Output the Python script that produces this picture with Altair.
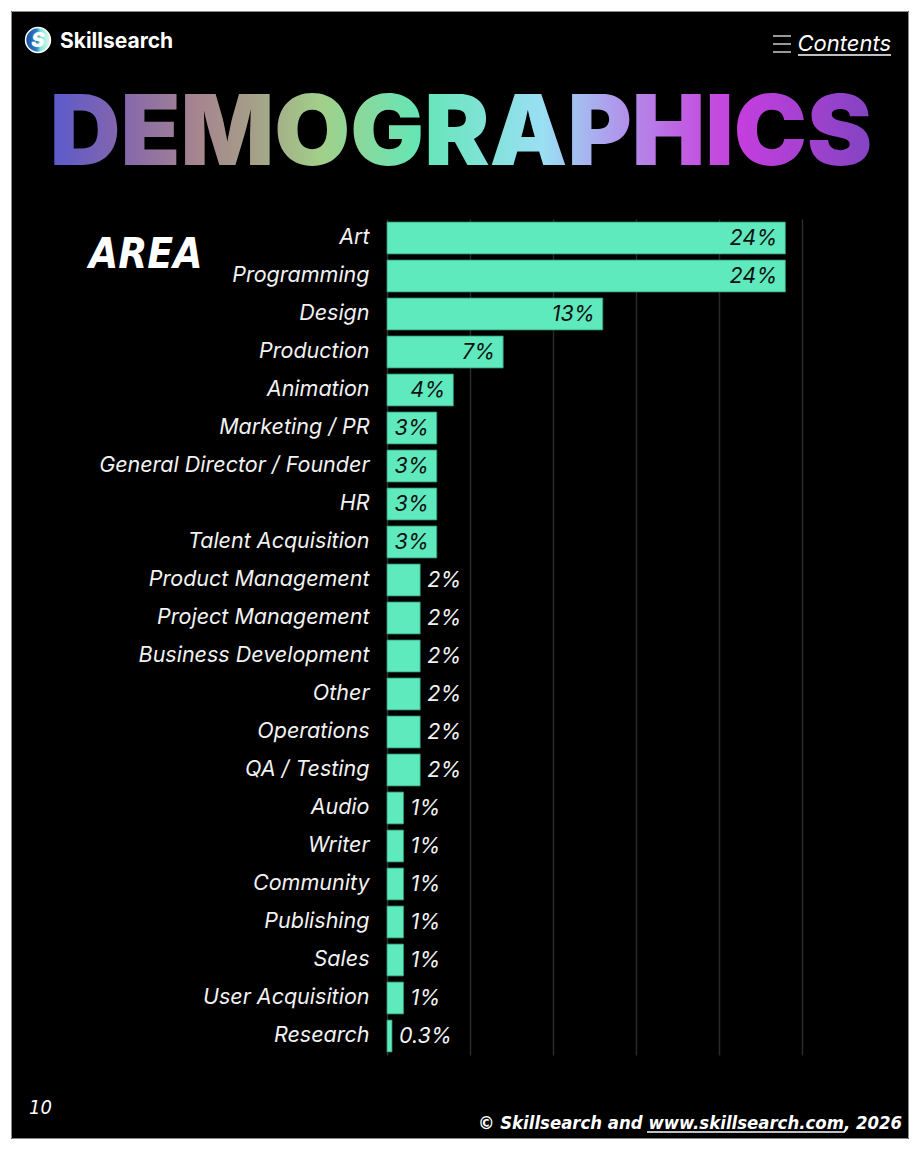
import altair as alt
import pandas as pd

# ---- data ----
areas = ["Art", "Programming", "Design", "Production", "Animation", "Marketing / PR",
         "General Director / Founder", "HR", "Talent Acquisition", "Product Management",
         "Project Management", "Business Development", "Other", "Operations", "QA / Testing",
         "Audio", "Writer", "Community", "Publishing", "Sales", "User Acquisition", "Research"]
shares = [24, 24, 13, 7, 4, 3, 3, 3, 3, 2, 2, 2, 2, 2, 2, 1, 1, 1, 1, 1, 1, 0.3]
labels = [f"{v:g}%" for v in shares]
grid_ticks = [5, 10, 15, 20, 25]

df = pd.DataFrame({"area": areas, "share": shares, "label": labels})
one = pd.DataFrame({"k": [0]})

L, T = 387, 219          # plot origin in page pixels
W, H = 415, 836

def px(x):
    return alt.value(x - L)

def py(y):
    return alt.value(y - T)

BAR = "#5eeabd"
FONT = "Inter"
NARROW = "Liberation Sans Narrow, DejaVu Sans Condensed, Liberation Sans, sans-serif"

base = alt.Chart(df)

bars = base.mark_bar(color=BAR, stroke="#2f8f6e", strokeWidth=0.8).encode(
    x=alt.X("share:Q", scale=alt.Scale(domain=[0, 25], nice=False),
            axis=alt.Axis(values=grid_ticks, grid=True, gridColor="#2a2a2a", gridWidth=1.5,
                          labels=False, ticks=False, domain=False, title=None)),
    y=alt.Y("area:N", sort=areas,
            scale=alt.Scale(paddingInner=0.16, paddingOuter=0.08),
            axis=alt.Axis(title=None, ticks=False, labelPadding=18, labelFont=FONT,
                          labelFontStyle="italic", labelFontSize=21.5, labelColor="#f2f2f2",
                          labelLimit=400, domainColor="#333333", domainWidth=1.5)),
)

inside = base.transform_filter("datum.share >= 3").mark_text(
    align="right", baseline="middle", dx=-8, dy=1, font=FONT, fontStyle="italic",
    fontSize=21.5, color="#111111").encode(
    x="share:Q", y=alt.Y("area:N", sort=areas), text="label:N")

outside = base.transform_filter("datum.share < 3").mark_text(
    align="left", baseline="middle", dx=7, dy=1, font=FONT, fontStyle="italic",
    fontSize=21.5, color="#f2f2f2").encode(
    x="share:Q", y=alt.Y("area:N", sort=areas), text="label:N")

deco = alt.Chart(one)

grad = alt.LinearGradient(
    gradient="linear", x1=0, x2=1, y1=0, y2=0,
    stops=[alt.GradientStop(color="#5a5acd", offset=0.0),
           alt.GradientStop(color="#8366ad", offset=0.085),
           alt.GradientStop(color="#a6858f", offset=0.18),
           alt.GradientStop(color="#a59e88", offset=0.245),
           alt.GradientStop(color="#a2cf8a", offset=0.33),
           alt.GradientStop(color="#64e6b6", offset=0.45),
           alt.GradientStop(color="#9adff4", offset=0.6),
           alt.GradientStop(color="#ad9fec", offset=0.68),
           alt.GradientStop(color="#c05fe2", offset=0.77),
           alt.GradientStop(color="#c43ede", offset=0.84),
           alt.GradientStop(color="#8244c2", offset=1.0)])

title = deco.mark_text(text="DEMOGRAPHICS", font=FONT, fontWeight=900, fontSize=98,
                       align="center", baseline="alphabetic", color=grad).encode(
    x=px(461), y=py(165))

area_lbl = deco.mark_text(text="AREA", font=NARROW, fontWeight="bold",
                          fontStyle="italic", fontSize=42, align="left",
                          baseline="alphabetic", color="white").encode(
    x=px(89), y=py(268))

logo_grad = alt.LinearGradient(
    gradient="linear", x1=0, x2=1, y1=0, y2=0,
    stops=[alt.GradientStop(color="#1a4f9e", offset=0.0),
           alt.GradientStop(color="#2f7fc8", offset=0.45),
           alt.GradientStop(color="#7fe6d6", offset=0.6),
           alt.GradientStop(color="#e8fbf6", offset=1.0)])
logo = deco.mark_point(shape="circle", filled=True, size=620, color=logo_grad,
                       stroke="white", strokeWidth=1.5, opacity=1).encode(
    x=px(38), y=py(40))
logo_s = deco.mark_text(text="S", font=FONT, fontWeight=900, fontStyle="italic",
                        fontSize=20, align="center", baseline="middle",
                        color="white").encode(x=px(38), y=py(41))

brand = deco.mark_text(text="Skillsearch", font=FONT, fontWeight="bold", fontSize=21,
                       align="left", baseline="alphabetic", color="white").encode(
    x=px(60), y=py(48))

contents = deco.mark_text(text="Contents", font=FONT, fontStyle="italic", fontSize=22,
                          align="right", baseline="alphabetic", color="white").encode(
    x=px(891), y=py(51))
contents_ul = deco.mark_rule(color="white", strokeWidth=1.5).encode(
    x=px(798), x2=px(891), y=py(55))
ham1 = deco.mark_rule(color="#cccccc", strokeWidth=1.5).encode(x=px(773), x2=px(791), y=py(36))
ham2 = deco.mark_rule(color="#cccccc", strokeWidth=1.5).encode(x=px(773), x2=px(791), y=py(44))
ham3 = deco.mark_rule(color="#cccccc", strokeWidth=1.5).encode(x=px(773), x2=px(791), y=py(52))

page_no = deco.mark_text(text="10", font=NARROW, fontStyle="italic",
                         fontSize=20, align="left", baseline="alphabetic",
                         color="white").encode(x=px(29), y=py(1114))
copyright = deco.mark_text(text="© Skillsearch and www.skillsearch.com, 2026",
                           font=NARROW, fontWeight="bold",
                           fontStyle="italic", fontSize=18.4, align="right",
                           baseline="alphabetic", color="white").encode(
    x=px(902), y=py(1129))
copy_ul = deco.mark_rule(color="white", strokeWidth=1.3).encode(
    x=px(647), x2=px(845), y=py(1132))

frame = deco.mark_rect(fillOpacity=0, stroke="white", strokeWidth=22).encode(
    x=px(0), x2=px(920), y=py(0), y2=py(1150))
frame_line = deco.mark_rect(fillOpacity=0, stroke="#8a8a8a", strokeWidth=1).encode(
    x=px(11.5), x2=px(908.5), y=py(11.5), y2=py(1138.5))

chart = alt.layer(
    bars, inside, outside, title, area_lbl, logo, logo_s, brand, contents, contents_ul,
    ham1, ham2, ham3, page_no, copyright, copy_ul, frame, frame_line
).properties(
    width=W, height=H, background="black",
    autosize=alt.AutoSizeParams(type="none"),
    padding={"left": L, "top": T, "right": 920 - L - W, "bottom": 1150 - T - H},
).configure_view(stroke=None)

chart.save("out.html", embed_options={"renderer": "svg", "actions": False})
